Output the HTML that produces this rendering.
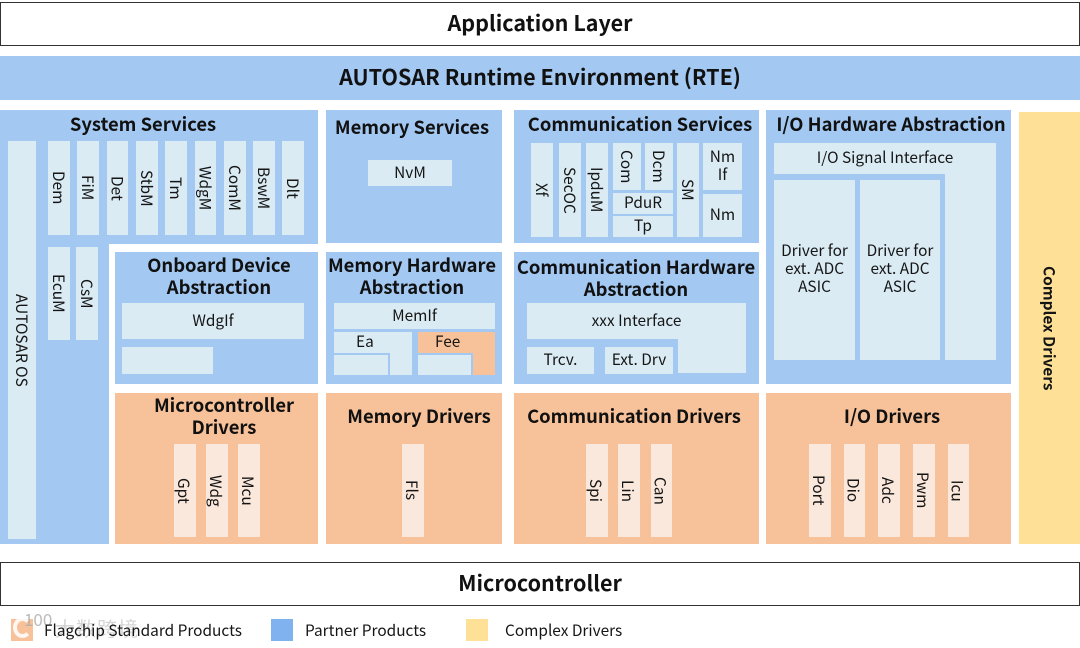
<!DOCTYPE html>
<html><head><meta charset="utf-8">
<style>
html,body{margin:0;padding:0;background:#fff}
#p{position:relative;width:1080px;height:648px;overflow:hidden;background:#fff;font-family:"Noto Sans CJK SC","Liberation Sans",sans-serif;color:#151515;font-size:15.4px}
#p div{position:absolute;box-sizing:border-box}
.b{background:#a3c8f2}.o{background:#f7c299}
.l,.f,.v,.w{display:flex;align-items:center;justify-content:center;text-align:center;line-height:18px;white-space:nowrap}
.l{background:#daebf4;padding-bottom:4px}
.v{background:#daebf4}
.w{background:#fae8dc;padding-right:2px}
.v,.w{writing-mode:vertical-rl}
.n{background:#daebf4}
.t{font-weight:700;font-size:18.4px;line-height:22px;text-align:center;white-space:nowrap;color:#111}
.h{font-weight:700;font-size:21.5px;display:flex;align-items:center;justify-content:center;color:#111;padding-bottom:4px}
.x{font-size:15.4px;line-height:20px;white-space:nowrap}
</style></head><body><div id="p">

<div class="h" style="left:0;top:2px;width:1080px;height:44px;border:1px solid #333;background:#fff">Application Layer</div>
<div class="h b" style="left:0;top:56px;width:1080px;height:44px">AUTOSAR Runtime Environment (RTE)</div>

<!-- System Services -->
<div class="b" style="left:0;top:110px;width:318px;height:134px"></div>
<div class="b" style="left:0;top:244px;width:109px;height:300px"></div>
<div class="t" style="left:-7px;top:113px;width:300px">System Services</div>
<div class="v" style="left:8px;top:141px;width:28px;height:398px">AUTOSAR OS</div>
<div class="v" style="left:48px;top:141px;width:22px;height:94px">Dem</div>
<div class="v" style="left:77px;top:141px;width:22px;height:94px">FiM</div>
<div class="v" style="left:107px;top:141px;width:21px;height:94px">Det</div>
<div class="v" style="left:136px;top:141px;width:22px;height:94px">StbM</div>
<div class="v" style="left:165px;top:141px;width:22px;height:94px">Tm</div>
<div class="v" style="left:195px;top:141px;width:21px;height:94px">WdgM</div>
<div class="v" style="left:224px;top:141px;width:22px;height:94px">ComM</div>
<div class="v" style="left:253px;top:141px;width:22px;height:94px">BswM</div>
<div class="v" style="left:282px;top:141px;width:22px;height:94px">Dlt</div>
<div class="v" style="left:48px;top:247px;width:22px;height:93px">EcuM</div>
<div class="v" style="left:76px;top:247px;width:22px;height:93px">CsM</div>

<!-- Onboard -->
<div class="b" style="left:115px;top:252px;width:203px;height:132px"></div>
<div class="t" style="left:69px;top:254px;width:300px">Onboard Device<br>Abstraction</div>
<div class="l" style="left:122px;top:303px;width:182px;height:36px;padding-bottom:2px">WdgIf</div>
<div class="n" style="left:122px;top:347px;width:91px;height:27px"></div>

<!-- Memory Services -->
<div class="b" style="left:326px;top:110px;width:176px;height:133px"></div>
<div class="t" style="left:262px;top:116px;width:300px">Memory Services</div>
<div class="l" style="left:368px;top:160px;width:84px;height:26px;padding-bottom:2px">NvM</div>

<!-- Memory HW -->
<div class="b" style="left:326px;top:252px;width:176px;height:132px"></div>
<div class="t" style="left:262px;top:254px;width:300px">Memory Hardware<br>Abstraction</div>
<div class="l" style="left:334px;top:303px;width:161px;height:26px;padding-bottom:2px">MemIf</div>
<div class="n" style="left:334px;top:332px;width:78px;height:43px"></div>
<div class="x" style="left:356px;top:331px">Ea</div>
<div class="b" style="left:334px;top:353px;width:56px;height:22px"></div>
<div class="n" style="left:334px;top:355px;width:54px;height:20px"></div>
<div class="o" style="left:418px;top:332px;width:77px;height:43px"></div>
<div class="x" style="left:435px;top:331px">Fee</div>
<div class="b" style="left:418px;top:353px;width:55px;height:22px"></div>
<div class="n" style="left:418px;top:355px;width:53px;height:20px"></div>

<!-- Comm Services -->
<div class="b" style="left:514px;top:110px;width:245px;height:133px"></div>
<div class="t" style="left:490px;top:113px;width:300px">Communication Services</div>
<div class="v" style="left:531px;top:143px;width:22px;height:94px">Xf</div>
<div class="v" style="left:559px;top:143px;width:22px;height:94px">SecOC</div>
<div class="v" style="left:586px;top:143px;width:22px;height:94px">IpduM</div>
<div class="v" style="left:613px;top:143px;width:28px;height:47px">Com</div>
<div class="v" style="left:645px;top:143px;width:28px;height:47px">Dcm</div>
<div class="l" style="left:613px;top:193px;width:60px;height:21px">PduR</div>
<div class="l" style="left:613px;top:216px;width:60px;height:21px">Tp</div>
<div class="v" style="left:677px;top:143px;width:22px;height:94px">SM</div>
<div class="l" style="left:703px;top:143px;width:39px;height:47px">Nm<br>If</div>
<div class="l" style="left:703px;top:194px;width:39px;height:43px">Nm</div>

<!-- Comm HW -->
<div class="b" style="left:514px;top:252px;width:245px;height:132px"></div>
<div class="t" style="left:486px;top:256px;width:300px">Communication Hardware<br>Abstraction</div>
<div class="l" style="left:527px;top:303px;width:219px;height:36px;padding-bottom:2px">xxx Interface</div>
<div class="n" style="left:678px;top:339px;width:68px;height:34px"></div>
<div class="l" style="left:527px;top:347px;width:67px;height:27px">Trcv.</div>
<div class="l" style="left:605px;top:347px;width:68px;height:27px">Ext. Drv</div>

<!-- IO HW -->
<div class="b" style="left:766px;top:110px;width:245px;height:274px"></div>
<div class="t" style="left:741px;top:113px;width:300px">I/O Hardware Abstraction</div>
<div class="l" style="left:774px;top:143px;width:222px;height:31px;padding-bottom:3px">I/O Signal Interface</div>
<div class="n" style="left:945px;top:174px;width:51px;height:186px"></div>
<div class="l" style="left:774px;top:180px;width:81px;height:180px">Driver for<br>ext. ADC<br>ASIC</div>
<div class="l" style="left:860px;top:180px;width:80px;height:180px">Driver for<br>ext. ADC<br>ASIC</div>

<!-- Complex -->
<div style="left:1019px;top:112px;width:61px;height:432px;background:#fee097;display:flex;align-items:center;justify-content:center;writing-mode:vertical-rl;font-weight:700;font-size:15.4px;line-height:18px">Complex Drivers</div>

<!-- Drivers -->
<div class="o" style="left:115px;top:393px;width:203px;height:151px"></div>
<div class="t" style="left:74px;top:394px;width:300px">Microcontroller<br>Drivers</div>
<div class="w" style="left:174px;top:444px;width:22px;height:93px">Gpt</div>
<div class="w" style="left:206px;top:444px;width:22px;height:93px">Wdg</div>
<div class="w" style="left:238px;top:444px;width:22px;height:93px">Mcu</div>

<div class="o" style="left:326px;top:393px;width:176px;height:151px"></div>
<div class="t" style="left:269px;top:405px;width:300px">Memory Drivers</div>
<div class="w" style="left:402px;top:444px;width:22px;height:93px">Fls</div>

<div class="o" style="left:514px;top:393px;width:245px;height:151px"></div>
<div class="t" style="left:484px;top:405px;width:300px">Communication Drivers</div>
<div class="w" style="left:586px;top:444px;width:22px;height:93px">Spi</div>
<div class="w" style="left:618px;top:444px;width:22px;height:93px">Lin</div>
<div class="w" style="left:651px;top:444px;width:21px;height:93px">Can</div>

<div class="o" style="left:766px;top:393px;width:245px;height:151px"></div>
<div class="t" style="left:742px;top:405px;width:300px">I/O Drivers</div>
<div class="w" style="left:809px;top:444px;width:22px;height:93px">Port</div>
<div class="w" style="left:844px;top:444px;width:21px;height:93px">Dio</div>
<div class="w" style="left:878px;top:444px;width:22px;height:93px">Adc</div>
<div class="w" style="left:913px;top:444px;width:22px;height:93px">Pwm</div>
<div class="w" style="left:948px;top:444px;width:21px;height:93px">Icu</div>

<div class="h" style="left:0;top:562px;width:1080px;height:44px;border:1px solid #333;background:#fff">Microcontroller</div>

<!-- Legend -->
<div class="o" style="left:11px;top:619px;width:22px;height:22px"></div>
<div style="left:13px;top:617px;width:19px;height:21px;border:4px solid rgba(255,255,255,.85);border-right-color:transparent;border-radius:50%"></div>
<div style="left:24px;top:610px;font-size:17px;line-height:18px;color:rgba(170,170,170,.8);white-space:nowrap">100</div>
<div style="left:55px;top:617px;font-size:20px;line-height:22px;letter-spacing:1px;color:rgba(185,185,185,.6);text-shadow:0 0 2px #fff;white-space:nowrap">大数跨境</div>
<div class="x" style="left:44px;top:620px">Flagchip Standard Products</div>
<div style="left:271px;top:619px;width:22px;height:22px;background:#7fb2ee"></div>
<div class="x" style="left:305px;top:620px">Partner Products</div>
<div style="left:466px;top:619px;width:22px;height:22px;background:#fee097"></div>
<div class="x" style="left:505px;top:620px">Complex Drivers</div>

</div></body></html>
